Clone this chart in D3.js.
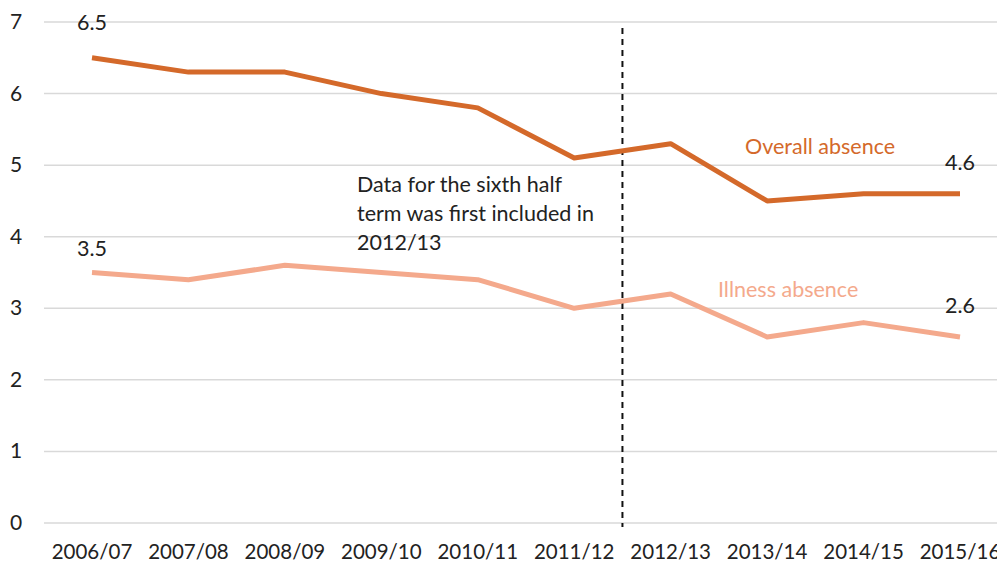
<!DOCTYPE html>
<html><head><meta charset="utf-8">
<script src="https://cdn.jsdelivr.net/npm/d3@7"></script>
<style>body{margin:0;background:#fff}svg{display:block}text{font-family:Lato,"Open Sans",sans-serif}</style>
</head><body><svg id="c" width="997" height="565"></svg>
<script>
const categories = ["2006/07","2007/08","2008/09","2009/10","2010/11","2011/12","2012/13","2013/14","2014/15","2015/16"];
const overall = [6.5,6.3,6.3,6.0,5.8,5.1,5.3,4.5,4.6,4.6];
const illness = [3.5,3.4,3.6,3.5,3.4,3.0,3.2,2.6,2.8,2.6];
const yTicks = [0,1,2,3,4,5,6,7];

const svg = d3.select("#c");
const x = d3.scalePoint().domain(categories).range([92,960]);
const y = d3.scaleLinear().domain([0,7]).range([523,22]);

svg.append("g").selectAll("line").data(yTicks).join("line")
  .attr("x1",44).attr("x2",997).attr("y1",d=>y(d)).attr("y2",d=>y(d))
  .attr("stroke","#d9d9d9").attr("stroke-width",1.5);
svg.append("g").selectAll("text").data(yTicks).join("text")
  .attr("x",16).attr("y",d=>y(d)+7).attr("text-anchor","middle")
  .attr("font-size",21).attr("fill","#222").text(d=>d);
svg.append("g").selectAll("text").data(categories).join("text")
  .attr("x",d=>x(d)).attr("y",559).attr("text-anchor","middle")
  .attr("font-size",20.5).attr("fill","#222").text(d=>d);

// dashed divider between 2011/12 and 2012/13
const xd = (x(categories[5])+x(categories[6]))/2;
svg.append("line").attr("x1",xd).attr("x2",xd).attr("y1",28).attr("y2",527)
  .attr("stroke","#111").attr("stroke-width",2).attr("stroke-dasharray","6,5");

const line = d3.line().x((d,i)=>x(categories[i])).y(d=>y(d));
svg.append("path").datum(illness).attr("d",line).attr("fill","none")
  .attr("stroke","#F4A98C").attr("stroke-width",5).attr("stroke-linejoin","round");
svg.append("path").datum(overall).attr("d",line).attr("fill","none")
  .attr("stroke","#D4692A").attr("stroke-width",5).attr("stroke-linejoin","round");

const lab = (t,xx,yy,col,anchor)=>svg.append("text").attr("x",xx).attr("y",yy)
  .attr("text-anchor",anchor||"middle").attr("font-size",21.5).attr("fill",col).text(t);
lab(overall[0].toFixed(1), x(categories[0]), y(overall[0])-28, "#222");
lab(illness[0].toFixed(1), x(categories[0]), y(illness[0])-17, "#222");
lab(overall[9].toFixed(1), x(categories[9]), y(overall[9])-24, "#222");
lab(illness[9].toFixed(1), x(categories[9]), y(illness[9])-24, "#222");
lab("Overall absence", 745, 154, "#D4692A", "start");
lab("Illness absence", 718, 297, "#F4A98C", "start");

const ann = ["Data for the sixth half","term was first included in","2012/13"];
svg.append("g").selectAll("text").data(ann).join("text")
  .attr("x",357).attr("y",(d,i)=>192+i*29).attr("font-size",21.5).attr("fill","#222").text(d=>d);
</script></body></html>
